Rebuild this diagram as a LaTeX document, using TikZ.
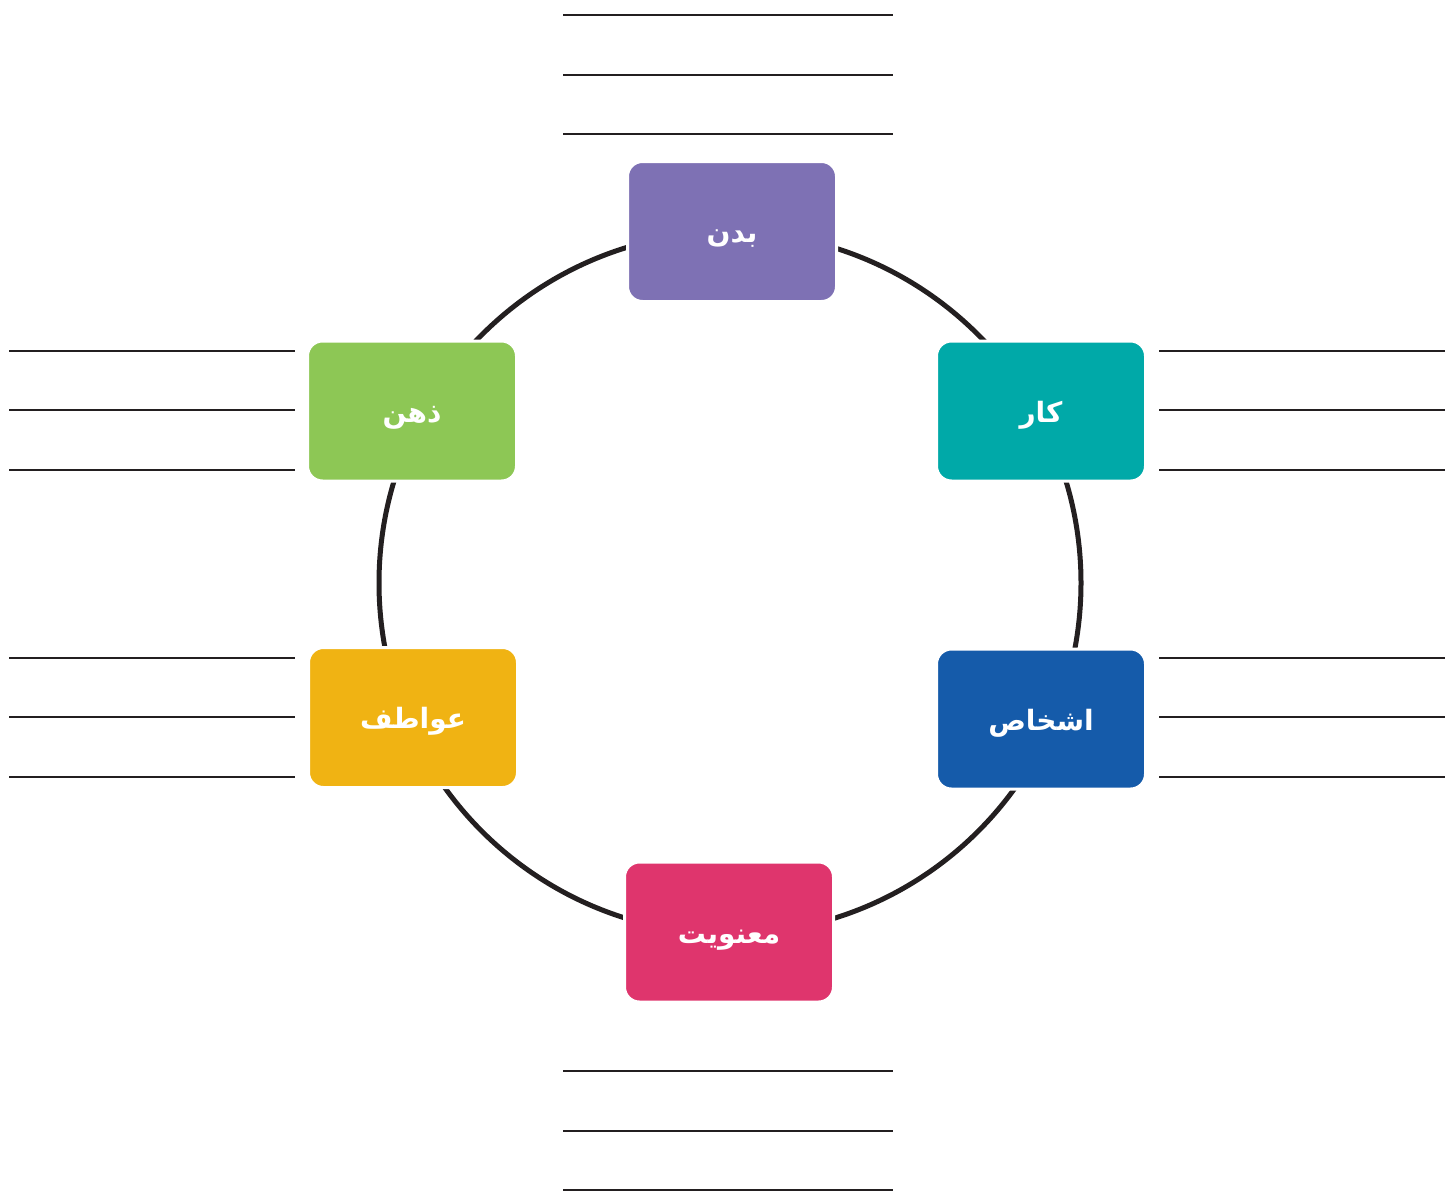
\documentclass[tikz,border=0pt]{standalone}
\usepackage{fontspec}
\newfontfamily\arabicfont[Script=Arabic]{DejaVu Sans}
\TeXXeTstate=1
\definecolor{bodycol}{HTML}{7E71B4}
\definecolor{workcol}{HTML}{00A9A8}
\definecolor{peoplecol}{HTML}{155BAA}
\definecolor{spiritcol}{HTML}{DF356D}
\definecolor{emotioncol}{HTML}{F0B313}
\definecolor{mindcol}{HTML}{8DC755}
\definecolor{inkcol}{HTML}{231F20}
\begin{document}
\begin{tikzpicture}[x=0.5pt, y=-0.5pt,
    areabox/.style={draw=white, line width=1.5pt, rounded corners=7.5pt, minimum width=104.5pt, minimum height=70pt, inner sep=0, outer sep=0, text height=11pt, text depth=0pt, text=white, font=\arabicfont\bfseries\fontsize{14}{17}\selectfont},
    noteline/.style={draw=inkcol, line width=1.2pt}]
        \useasboundingbox (0,0) rectangle (1445,1194);

        % ring behind the boxes
        \draw[inkcol, line width=2.5pt] (730,583) circle [radius=351];

        \node[areabox, fill=bodycol] (body) at (732,231.5) {\beginR بدن\endR};
        \node[areabox, fill=workcol] (work) at (1041,411) {\beginR کار\endR};
        \node[areabox, fill=peoplecol] (people) at (1041,719) {\beginR اشخاص\endR};
        \node[areabox, fill=spiritcol] (spirit) at (729,932) {\beginR معنویت\endR};
        \node[areabox, fill=emotioncol] (emotions) at (413,717.5) {\beginR عواطف\endR};
        \node[areabox, fill=mindcol] (mind) at (412,411) {\beginR ذهن\endR};

        % writing lines
        \foreach \y in {15,75,134} \draw[noteline] (563,\y) -- (893,\y);
        \foreach \y in {1071,1131,1190} \draw[noteline] (563,\y) -- (893,\y);
        \foreach \y in {351,410,470,658,717,777} {
            \draw[noteline] (9,\y) -- (295,\y);
            \draw[noteline] (1159,\y) -- (1445,\y);
        }
      \end{tikzpicture}
\end{document}
